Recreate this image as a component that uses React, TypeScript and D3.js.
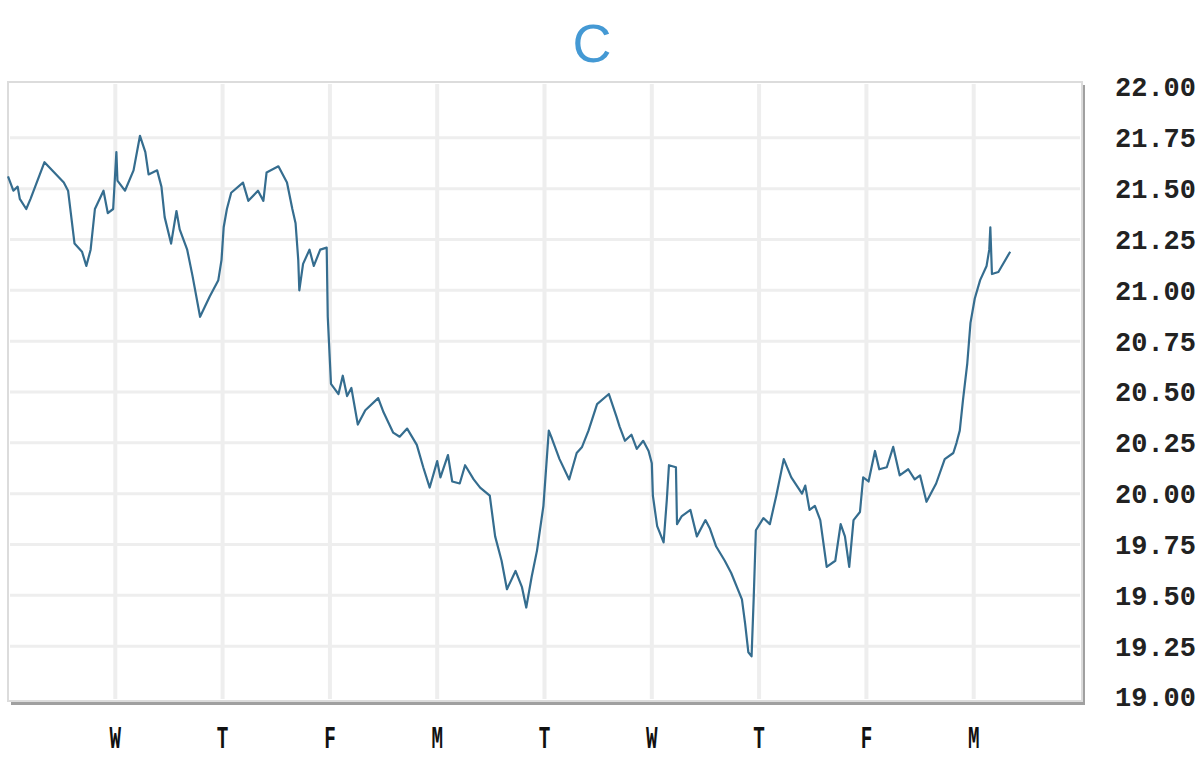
import React from "react";
import * as d3 from "d3";

const title = "C";
const dayLabels = ["W", "T", "F", "M", "T", "W", "T", "F", "M"];
const yTicks = [19, 19.25, 19.5, 19.75, 20, 20.25, 20.5, 20.75, 21, 21.25, 21.5, 21.75, 22];

// time in trading-day units from the left edge
const times = [
  0.0, 0.05, 0.09, 0.11, 0.17, 0.21, 0.34, 0.52, 0.56, 0.62, 0.69, 0.73, 0.77, 0.81, 0.89, 0.93, 0.98,
  1.01, 1.02, 1.09, 1.17, 1.23, 1.28, 1.31, 1.39, 1.43, 1.46, 1.52, 1.57, 1.6, 1.67, 1.72, 1.79, 1.88, 1.96, 1.99,
  2.01, 2.04, 2.08, 2.19, 2.24, 2.33, 2.38, 2.41, 2.52, 2.6, 2.65, 2.68, 2.705, 2.715, 2.75, 2.81, 2.85, 2.91, 2.97, 2.98,
  3.01, 3.08, 3.12, 3.16, 3.2, 3.26, 3.33, 3.45, 3.5, 3.59, 3.65, 3.72, 3.81, 3.87, 3.93,
  4.0, 4.03, 4.1, 4.14, 4.21, 4.26, 4.34, 4.4, 4.49, 4.54, 4.6, 4.65, 4.73, 4.79, 4.83, 4.88, 4.93, 4.99,
  5.04, 5.07, 5.14, 5.23, 5.3, 5.35, 5.41, 5.49, 5.6, 5.67, 5.7, 5.75, 5.81, 5.86, 5.92, 5.97, 6.0,
  6.01, 6.05, 6.11, 6.14, 6.16, 6.225, 6.235, 6.28, 6.36, 6.42, 6.5, 6.54, 6.6, 6.68, 6.74, 6.84, 6.87, 6.9, 6.93, 6.95, 6.97,
  7.04, 7.1, 7.16, 7.23, 7.3, 7.4, 7.43, 7.47, 7.52, 7.57, 7.63, 7.71, 7.76, 7.8, 7.84, 7.88, 7.94, 7.97,
  8.02, 8.08, 8.12, 8.19, 8.25, 8.31, 8.39, 8.45, 8.5, 8.56, 8.65, 8.73, 8.81, 8.84, 8.87, 8.9, 8.94, 8.97,
  9.01, 9.06, 9.12, 9.145, 9.155, 9.17, 9.23, 9.34,
];
const prices = [
  21.56, 21.49, 21.51, 21.45, 21.4, 21.45, 21.63, 21.53, 21.49, 21.23, 21.19, 21.12, 21.2, 21.4, 21.49, 21.38, 21.4,
  21.68, 21.54, 21.49, 21.59, 21.76, 21.68, 21.57, 21.59, 21.51, 21.36, 21.23, 21.39, 21.3, 21.2, 21.07, 20.87, 20.97, 21.05, 21.15,
  21.31, 21.4, 21.48, 21.53, 21.44, 21.49, 21.44, 21.58, 21.61, 21.53, 21.4, 21.33, 21.15, 21.0, 21.13, 21.2, 21.12, 21.2, 21.21, 20.87,
  20.54, 20.49, 20.58, 20.48, 20.52, 20.34, 20.41, 20.47, 20.4, 20.3, 20.28, 20.32, 20.24, 20.13, 20.03,
  20.16, 20.08, 20.19, 20.06, 20.05, 20.14, 20.07, 20.03, 19.99, 19.79, 19.67, 19.53, 19.62, 19.54, 19.44, 19.59, 19.72, 19.94,
  20.31, 20.27, 20.17, 20.07, 20.2, 20.23, 20.31, 20.44, 20.49, 20.38, 20.33, 20.26, 20.29, 20.22, 20.26, 20.21, 20.15,
  19.99, 19.84, 19.76, 19.97, 20.14, 20.13, 19.85, 19.89, 19.92, 19.79, 19.87, 19.83, 19.74, 19.67, 19.61, 19.48, 19.36, 19.22, 19.2, 19.49, 19.82,
  19.88, 19.85, 19.99, 20.17, 20.08, 20.0, 20.04, 19.92, 19.94, 19.87, 19.64, 19.67, 19.85, 19.79, 19.64, 19.87, 19.91, 20.08,
  20.06, 20.21, 20.12, 20.13, 20.23, 20.09, 20.12, 20.07, 20.09, 19.96, 20.05, 20.17, 20.2, 20.25, 20.31, 20.46, 20.64, 20.84,
  20.96, 21.05, 21.12, 21.2, 21.31, 21.08, 21.09, 21.19,
];

const W = 1200;
const H = 771;
const plot = { left: 8, right: 1082, top: 82, bottom: 701 };

export default function App() {
  const x = d3.scaleLinear().domain([0, 10]).range([8, 1081]);
  const y = d3.scaleLinear().domain([19, 22]).range([697, 87]);
  const data = times.map((t, i) => [t, prices[i]] as [number, number]);
  const line = d3
    .line<[number, number]>()
    .x((d) => x(d[0]))
    .y((d) => y(d[1]));
  const vTicks = d3.range(1, 10);

  return (
    <svg
      width={W}
      height={H}
      style={{ position: "absolute", left: 0, top: 0, background: "#fff" }}
    >
      <text
        x={592}
        y={62}
        textAnchor="middle"
        fontFamily="Liberation Sans, Arial, sans-serif"
        fontSize={54}
        fill="#4499d4"
      >
        {title}
      </text>

      {/* shadow */}
      <rect
        x={plot.left + 3}
        y={plot.top + 3}
        width={plot.right - plot.left}
        height={plot.bottom - plot.top + 1}
        fill="#a0a0a0"
      />
      <rect
        x={plot.left}
        y={plot.top}
        width={plot.right - plot.left}
        height={plot.bottom - plot.top}
        fill="#fff"
        stroke="#dcdcdc"
        strokeWidth={2}
      />

      {yTicks.slice(1, -1).map((v) => (
        <line
          key={"h" + v}
          x1={plot.left + 2}
          x2={plot.right - 2}
          y1={y(v)}
          y2={y(v)}
          stroke="#eeeeee"
          strokeWidth={3}
        />
      ))}
      {vTicks.map((d) => (
        <line
          key={"v" + d}
          x1={x(d)}
          x2={x(d)}
          y1={plot.top + 2}
          y2={plot.bottom - 2}
          stroke="#eeeeee"
          strokeWidth={4}
        />
      ))}

      <path d={line(data) || ""} fill="none" stroke="#356d8f" strokeWidth={2.2} strokeLinejoin="round" />

      {yTicks.map((v) => (
        <text
          key={"yl" + v}
          x={1196}
          y={y(v)}
          dy="0.35em"
          textAnchor="end"
          fontFamily="Liberation Mono, Courier New, monospace"
          fontWeight="bold"
          fontSize={27}
          fill="#222"
        >
          {v.toFixed(2)}
        </text>
      ))}

      {dayLabels.map((lab, i) => (
        <text
          key={"xl" + i}
          transform={`translate(${x(i + 1)},748) scale(0.62,1)`}
          textAnchor="middle"
          fontFamily="Liberation Mono, Courier New, monospace"
          fontWeight="bold"
          fontSize={31}
          fill="#111"
        >
          {lab}
        </text>
      ))}
    </svg>
  );
}
